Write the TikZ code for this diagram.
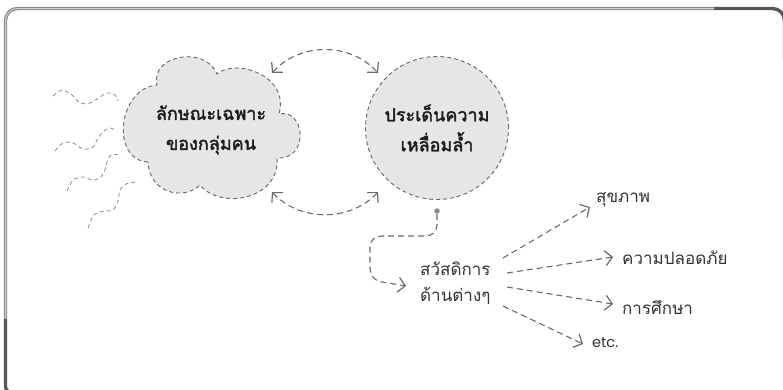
\documentclass[tikz,border=0pt]{standalone}
\usepackage{fontspec}
\newfontfamily\thai[Script=Thai]{Loma}
\newfontfamily\thaibold[Script=Thai, FakeBold=2.2]{Loma}
\newfontfamily\latinf{Poppins}
\usetikzlibrary{arrows.meta}
\definecolor{lineg}{HTML}{6A6A6A}
\definecolor{wavyg}{HTML}{8A8A8A}
\definecolor{fillg}{HTML}{E6E6E6}
\definecolor{outg}{HTML}{666666}
\definecolor{frlight}{HTML}{8C8C8C}
\definecolor{frinner}{HTML}{CFCFCF}
\definecolor{frdark}{HTML}{585858}
\definecolor{txtdark}{HTML}{1E1E1E}
\definecolor{txtreg}{HTML}{333333}
\tikzset{
  conn/.style={draw=lineg, line width=1.1pt, dash pattern=on 6pt off 4pt,
    -{Straight Barb[length=7pt,width=15pt,line width=1.2pt]}},
  dconn/.style={conn, {Straight Barb[length=7pt,width=15pt,line width=1.2pt]}-{Straight Barb[length=7pt,width=15pt,line width=1.2pt]}},
  wavy/.style={draw=wavyg, line width=0.8pt, dash pattern=on 4pt off 3pt},
  bubble/.style={draw=outg, line width=0.9pt, dash pattern=on 4pt off 3pt, fill=fillg},
  boldtxt/.style={font=\thaibold\fontsize{18}{30}\selectfont, text=txtdark, align=center},
  regtxt/.style={font=\thai\fontsize{17}{26}\selectfont, text=txtreg, inner sep=0pt},
}
\begin{document}
\begin{tikzpicture}[x=1pt,y=-1pt]
\useasboundingbox (0,0) rectangle (783,389);
\clip (0,0) rectangle (783,389);
% frame
\draw[frlight, line width=3.4pt, rounded corners=12pt] (5.5,319) -- (5.5,8.5) -- (714,8.5);
\draw[frinner, line width=1pt, rounded corners=12pt] (5.5,319) -- (5.5,8.5) -- (714,8.5);
\draw[frdark, line width=3.4pt, rounded corners=12pt] (714,8.5) -- (784.5,8.5) -- (784.5,60);
\draw[frdark, line width=3.4pt, rounded corners=6pt] (5.5,319) -- (5.5,392.5) -- (40,392.5);
% wavy lines
\draw[wavy] plot[smooth] coordinates {(53,96) (62,90) (72,95) (80,103) (90,103) (100,97) (107,93) (115,95) (118,101)};
\draw[wavy] plot[smooth] coordinates {(55,151) (63,143) (73,143) (83,149) (93,147) (98,138) (103,132) (110,128) (117,131)};
\draw[wavy] plot[smooth] coordinates {(67,191) (73,180) (83,177) (92,180) (100,178) (105,170) (107,162) (111,155) (119,155)};
\draw[wavy] plot[smooth] coordinates {(88,228) (94,215) (104,211) (113,210) (118,201) (120,190) (126,184) (136,182)};
% cloud
\path[bubble] (148,162) .. controls (110,160) and (118,88) .. (157,85)
  .. controls (150,55) and (205,45) .. (217,74)
  .. controls (235,58) and (290,75) .. (279,114)
  .. controls (305,108) and (310,160) .. (277,158)
  .. controls (280,200) and (220,210) .. (200,185)
  .. controls (185,200) and (150,195) .. cycle;
\node[boldtxt] (group) at (211,130) {ลักษณะเฉพาะ\\ของกลุ่มคน};
% circle
\node[bubble, circle, minimum size=143pt, inner sep=0pt] (issue) at (437,128) {};
\node[boldtxt] (issuetxt) at (issue.center) {ประเด็นความ\\เหลื่อมล้ำ};
% double arcs
\coordinate (t1) at (272,73);
\coordinate (t2) at (378,73);
\coordinate (b1) at (272,192);
\coordinate (b2) at (378,192);
\draw[dconn] (t1) .. controls (300,42) and (350,42) .. (t2);
\draw[dconn] (b1) .. controls (300,222) and (350,222) .. (b2);
% dot and loop
\node[circle, fill=wavyg, inner sep=0pt, minimum size=5.5pt] (dot) at (437,211) {};
\node[regtxt, align=left, anchor=west] (welfare) at (420,283) {สวัสดิการ\\ด้านต่างๆ};
\draw[conn, rounded corners=11pt] (dot.south) -- (437,236) -- (370,236) -- (370,280) -- ([xshift=-14pt,yshift=-3pt]welfare.west);
% targets
\node[regtxt, anchor=west] (health) at (596,200) {สุขภาพ};
\node[regtxt, anchor=west] (safety) at (622,258) {ความปลอดภัย};
\node[regtxt, anchor=west] (edu) at (622,308) {การศึกษา};
\node[regtxt, anchor=west, font=\latinf\fontsize{14.5}{20}\selectfont] (etc) at (592,343) {etc.};
\coordinate (s1) at (503,258);
\coordinate (s2) at (507,273);
\coordinate (s3) at (507,287);
\coordinate (s4) at (503,306);
\draw[conn] (s1) -- ([shift={(-6,7)}]health.west);
\draw[conn] (s2) -- ([shift={(-9,-1)}]safety.west);
\draw[conn] (s3) -- ([shift={(-9,-4)}]edu.west);
\draw[conn] (s4) -- ([shift={(-9,1)}]etc.west);
\end{tikzpicture}
\end{document}
